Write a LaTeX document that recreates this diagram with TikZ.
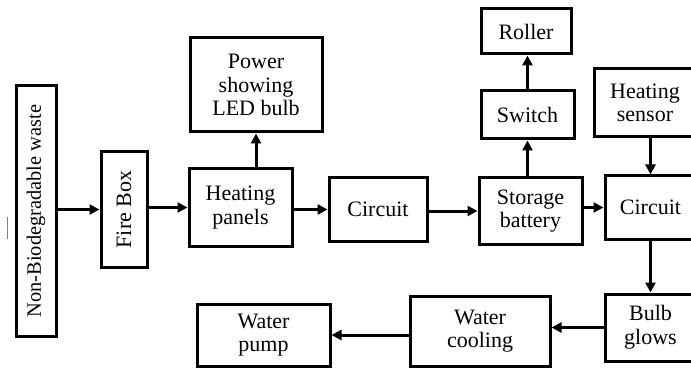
\documentclass[tikz,border=0pt]{standalone}
\usepackage{fontspec}
\setmainfont{Liberation Serif}
\usetikzlibrary{arrows.meta,positioning,calc}

\begin{document}
\begin{tikzpicture}[x=0.5pt, y=-0.5pt,
  blk/.style={draw, line width=1.5pt, inner sep=1pt, align=center,
              font=\fontsize{11}{11.8}\selectfont},
  vblk/.style={blk, rotate=90},
  arrow/.style={-{Triangle[length=5pt,width=5pt]}, line width=1.5pt}]
\useasboundingbox (0,0) rectangle (691,369);
% #1 name, #2/#3 centre, #4 width, #5 height, #6 text
\def\blk#1#2#3#4#5#6{%
  \node[blk, minimum width=#4*0.5pt, minimum height=#5*0.5pt] (#1) at (#2,#3) {#6};}
\node[vblk, minimum width=125pt, minimum height=20pt, font=\fontsize{10.2}{11}\selectfont] (waste) at (36,211) {Non-Biodegradable waste};
\node[vblk, minimum width=58pt, minimum height=23pt] (firebox) at (124,209.5) {Fire Box};
\blk{panels}{240.5}{207.5}{103}{77}{Heating\\panels}
\blk{led}{256}{85}{132}{94}{Power\\showing\\LED bulb}
\blk{circA}{378}{209.5}{98}{63}{Circuit}
\blk{battery}{530.5}{211}{103}{66}{Storage\\battery}
\blk{switch}{527.5}{115}{93}{48}{Switch}
\blk{roller}{526}{31.5}{90}{45}{Roller}
\blk{sensor}{645}{103}{102}{68}{Heating\\sensor}
\blk{circB}{650.5}{207.5}{91}{63}{Circuit}
\blk{bulb}{650.5}{327.5}{91}{67}{Bulb\\glows}
\blk{cooling}{480}{331}{140}{70}{Water\\cooling}
\blk{pump}{263.5}{335}{133}{62}{Water\\pump}
% stray mark at the left edge
\draw[gray, line width=0.8pt] (7.5,217) -- (7.5,239);
% main row
\draw[arrow] (waste.south |- firebox) -- (firebox.north);
\draw[arrow] (firebox.south |- panels) -- (panels.west);
\draw[arrow] (panels.east |- circA) -- (circA.west);
\draw[arrow] (circA.east |- battery) -- (battery.west);
\draw[arrow] (battery.east |- circB) -- (circB.west);
% branches
\draw[arrow] (panels.north -| led) -- (led.south);
\draw[arrow] (battery.north -| switch) -- (switch.south);
\draw[arrow] (switch.north) -- (switch.north |- roller.south);
\draw[arrow] (sensor.south -| circB) -- (circB.north);
\draw[arrow] (circB) -- (bulb);
% bottom row
\draw[arrow] (bulb.west) -- (bulb.west -| cooling.east);
\draw[arrow] (pump.east -| cooling.west) -- (pump.east);
\end{tikzpicture}
\end{document}
